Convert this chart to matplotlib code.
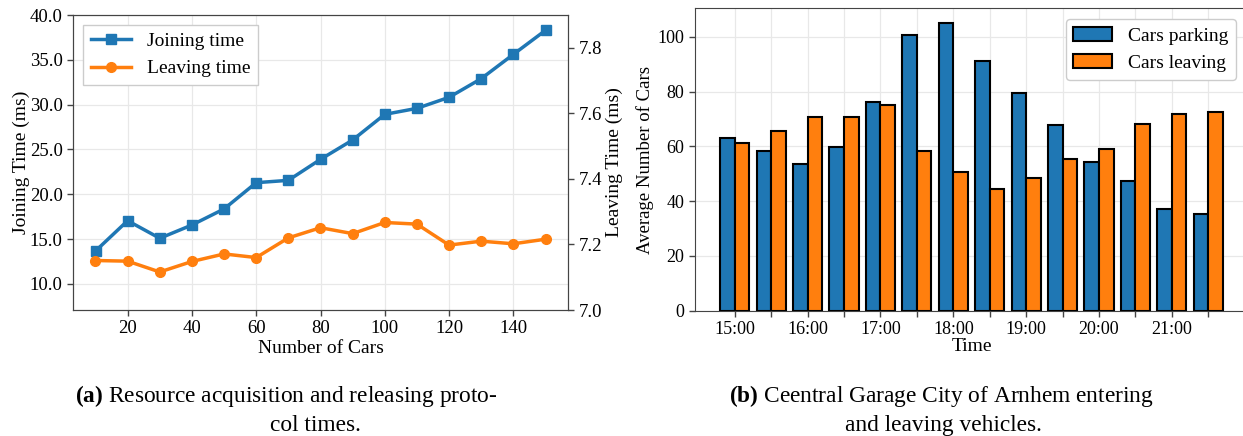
import numpy as np
import matplotlib
matplotlib.use('Agg')
import matplotlib.pyplot as plt

plt.rcParams['font.family'] = ['Liberation Serif', 'DejaVu Serif']
plt.rcParams['mathtext.fontset'] = 'custom'
plt.rcParams['mathtext.rm'] = 'Liberation Serif'
plt.rcParams['mathtext.bf'] = 'Liberation Serif:bold'

# (a) protocol times
n_cars = [10, 20, 30, 40, 50, 60, 70, 80, 90, 100, 110, 120, 130, 140, 150]
joining_ms = [13.68, 17.06, 15.1, 16.58, 18.37, 21.3, 21.56, 23.9, 26.06, 28.92,
              29.59, 30.82, 32.9, 35.61, 38.29]
leaving_ms = [7.151, 7.149, 7.116, 7.148, 7.171, 7.160, 7.220, 7.251, 7.233, 7.267,
              7.262, 7.198, 7.210, 7.202, 7.216]

# (b) garage
slots = ['15:00', '15:30', '16:00', '16:30', '17:00', '17:30', '18:00', '18:30',
         '19:00', '19:30', '20:00', '20:30', '21:00', '21:30']
cars_parking = [63.1, 58.5, 53.5, 59.7, 76.3, 100.6, 105.2, 91.2, 79.6, 68.0,
                54.3, 47.4, 37.0, 35.5]
cars_leaving = [61.1, 65.7, 70.7, 70.7, 75.0, 58.3, 50.6, 44.5, 48.4, 55.4,
                59.1, 68.2, 71.8, 72.5]

W, H = 1243, 436
fig = plt.figure(figsize=(W / 100, H / 100), dpi=100)

FS = 14
SPINE = '#444444'
GRID = '#e8e8e8'


def style_axes(ax, size):
    for s in ax.spines.values():
        s.set_color(SPINE)
    ax.tick_params(labelcolor='black', labelsize=size, length=4, width=1, color=SPINE)


# --- left: joining / leaving time
ax1 = fig.add_axes([73 / W, (H - 310) / H, (568 - 73) / W, (310 - 15) / H])
ax2 = ax1.twinx()

l1, = ax1.plot(n_cars, joining_ms, color='#1f77b4', marker='s', lw=2.5, ms=7,
               label='Joining time')
l2, = ax2.plot(n_cars, leaving_ms, color='#ff7f0e', marker='o', lw=2.5, ms=7,
               label='Leaving time')

ax1.set_ylim(7.1, 40)
ax2.set_ylim(7.0, 7.9)
ax1.set_xlim(3, 157)
ax1.set_yticks(np.arange(10, 40.1, 5))
ax1.set_yticklabels(['%.1f' % v for v in np.arange(10, 40.1, 5)])
ax2.set_yticks([7.0, 7.2, 7.4, 7.6, 7.8])
ax2.set_yticklabels(['7.0', '7.2', '7.4', '7.6', '7.8'])
ax1.set_xticks([20, 40, 60, 80, 100, 120, 140])
ax1.grid(True, color=GRID, lw=0.9)
ax1.set_axisbelow(True)

ax1.set_xlabel('Number of Cars', fontsize=FS, labelpad=2)
ax1.set_ylabel('Joining Time (ms)', fontsize=FS, labelpad=0)
ax2.set_ylabel('Leaving Time (ms)', fontsize=FS, labelpad=3)
style_axes(ax1, 13.5)
style_axes(ax2, 13.5)

ax1.legend(handles=[l1, l2], loc='upper left', fontsize=FS, frameon=True,
           fancybox=False, edgecolor='#cccccc', framealpha=1,
           handlelength=2.1)

# --- right: garage bars
ax3 = fig.add_axes([695 / W, (H - 310.7) / H, (1248 - 695) / W, (310.7 - 8.3) / H])
x = np.arange(len(slots))
bw = 0.4
ax3.bar(x - bw / 2, cars_parking, bw, color='#1f77b4', edgecolor='black', lw=1.5,
        label='Cars parking', zorder=3)
ax3.bar(x + bw / 2, cars_leaving, bw, color='#ff7f0e', edgecolor='black', lw=1.5,
        label='Cars leaving', zorder=3)
ax3.set_xticks(x)
ax3.set_xticklabels([s if i % 2 == 0 else '' for i, s in enumerate(slots)])
ax3.set_yticks([0, 20, 40, 60, 80, 100])
ax3.grid(True, color=GRID, lw=0.9)
ax3.set_axisbelow(True)
ax3.set_xlabel('Time', fontsize=FS, labelpad=0)
ax3.set_ylabel('Average Number of Cars', fontsize=13.5, labelpad=3)
style_axes(ax3, 13)
ax3.legend(loc='upper right', fontsize=FS, frameon=True, fancybox=True,
           edgecolor='#cccccc', framealpha=1, bbox_to_anchor=(0.996, 0.996))

# --- captions
CFS = 16.8
fig.text(286 / W, 1 - 402 / H, r'$\mathbf{(a)}$ Resource acquisition and releasing proto-',
         ha='center', va='baseline', fontsize=CFS)
fig.text(315 / W, 1 - 431 / H, 'col times.', ha='center', va='baseline', fontsize=CFS)
fig.text(941 / W, 1 - 402 / H, r'$\mathbf{(b)}$ Ceentral Garage City of Arnhem entering',
         ha='center', va='baseline', fontsize=CFS)
fig.text(943 / W, 1 - 431 / H, 'and leaving vehicles.', ha='center', va='baseline',
         fontsize=CFS)

fig.savefig('out.png', dpi=100)
